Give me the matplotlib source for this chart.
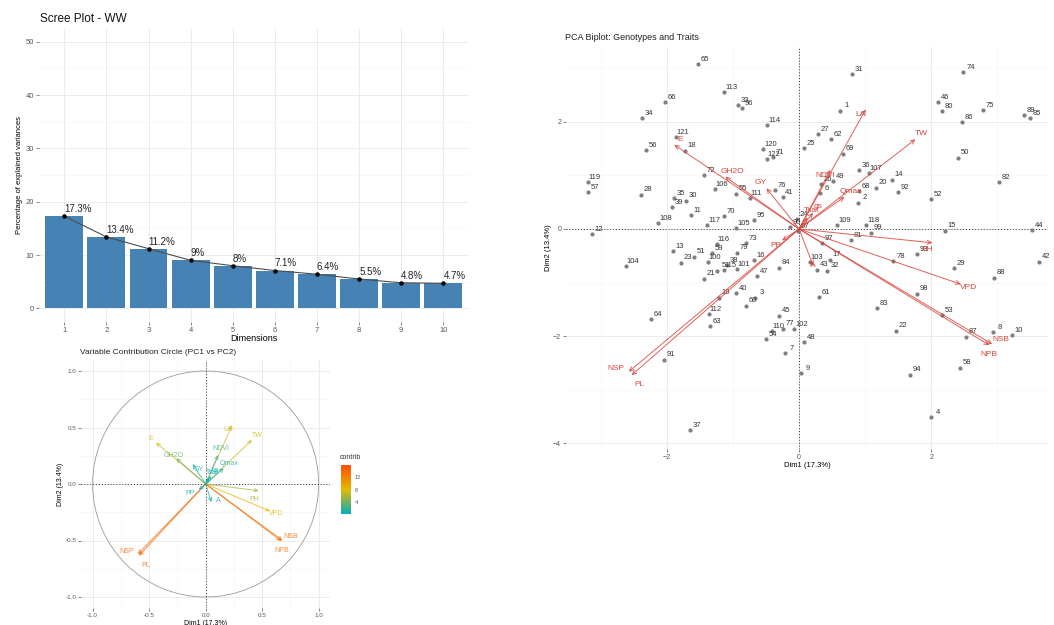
import numpy as np
import matplotlib as mpl
import matplotlib.pyplot as plt
from matplotlib.colors import LinearSegmentedColormap, Normalize
from matplotlib.patches import Circle

plt.rcParams['font.family'] = ['Liberation Sans', 'DejaVu Sans']

# scree plot
dims = list(range(1, 11))
explained = [17.3, 13.4, 11.2, 9.0, 8.0, 7.1, 6.4, 5.5, 4.8, 4.7]

# traits on the correlation circle (Dim1, Dim2) and their contribution
var_names = ['E', 'GH2O', 'GY', 'LA', 'TW', 'NDVI', 'Qmax', 'PH', 'VPD',
             'NSB', 'NPB', 'NSP', 'PL', 'A', 'PP', 'Tsat', 'gs']
var_dim1 = [-0.44, -0.26, -0.115, 0.235, 0.41, 0.11, 0.16, 0.47, 0.57,
            0.68, 0.67, -0.60, -0.59, 0.05, -0.06, 0.03, 0.05]
var_dim2 = [0.366, 0.227, 0.177, 0.52, 0.39, 0.257, 0.14, -0.06, -0.24,
            -0.50, -0.505, -0.62, -0.635, -0.16, -0.05, 0.05, 0.07]
var_contrib = [7.4, 3.6, 1.0, 7.2, 7.0, 2.0, 1.0, 5.5, 8.2,
               13.6, 13.4, 14.2, 14.0, 0.6, 0.3, 0.1, 0.1]

# genotype scores (Dim1, Dim2)
geno_id = list(range(1, 123))
geno_dim1 = [0.62, 0.89, -0.67, 2.00, -1.24, 0.32, -0.22, 2.94, 0.03, 3.22,
             -1.64, -3.14, -1.91, 1.41, 2.21, -0.68, 0.47, -1.73, -1.22, 1.16,
             -1.44, 1.47, -1.79, -0.03, 0.07, 0.33, 0.28, -2.40, 2.34, -1.72,
             0.80, 0.43, -0.93, -2.38, -1.89, 0.90, -1.65, -1.09, -1.93, -0.95,
             -0.25, 3.63, 0.27, 3.53, -0.30, 2.11, -0.64, 0.07, 0.51, 2.40,
             -1.59, 2.00, 2.16, -0.50, -0.96, -2.32, -3.19, 2.44, -1.32, -0.80,
             0.30, 0.49, -1.35, -2.25, -1.53, -2.03, -0.02, 0.90, 0.67, -1.14,
             -0.40, -1.44, -0.80, 2.49, 2.78, -0.37, -0.25, 1.43, -0.94, 2.17,
             0.79, 3.03, 1.18, -0.31, 3.50, 2.47, 2.53, 2.95, 3.40, -0.14,
             -2.05, 1.50, 1.78, 1.68, -0.69, -0.86, 0.35, 1.79, 1.09, -1.38,
             -0.94, -0.07, 0.17, -2.62, -0.95, -1.27, 1.06, -2.13, 0.58, -0.41,
             -0.75, -1.37, -1.13, -0.48, -1.14, -1.25, -1.39, 1.02, -3.20, -0.54,
             -1.87, -0.49]
geno_dim2 = [2.21, 0.49, -1.28, -3.52, -0.78, 0.67, -2.32, -1.93, -2.69, -1.98,
             0.26, -0.10, -0.41, 0.92, -0.03, -0.58, -0.57, 1.46, -1.28, 0.77,
             -0.93, -1.90, -0.63, 0.18, 1.51, 0.84, 1.77, 0.64, -0.73, 0.53,
             2.89, -0.78, 2.31, 2.07, 0.57, 1.10, -3.76, -0.67, 0.41, -1.20,
             0.59, -0.61, -0.76, -0.02, -1.62, 2.37, -0.88, -2.11, 0.89, 1.33,
             -0.52, 0.56, -1.61, -2.06, 0.66, 1.47, 0.69, -2.59, -0.45, -1.43,
             -1.27, 1.68, -1.81, -1.68, 3.08, 2.37, -0.04, 0.71, 1.41, 0.24,
             1.34, 1.01, -0.27, 2.93, 2.22, 0.73, -1.86, -0.60, -0.44, 2.20,
             -0.21, 0.88, -1.48, -0.72, 2.07, 1.99, -2.01, -0.91, 2.13, 0.03,
             -2.44, 0.69, -0.47, -2.72, 0.16, 2.26, -0.26, -1.21, -0.07, -0.62,
             -0.75, -1.87, -0.62, -0.69, 0.02, 0.74, 1.04, 0.11, 0.07, -1.91,
             0.58, -1.59, 2.55, 1.94, -0.77, -0.28, 0.07, 0.07, 0.88, 1.49,
             1.72, 1.30]

biplot_scale = 4.3  # factoextra rescales trait arrows onto the score space

W, H = 1054, 625
fig = plt.figure(figsize=(W / 100, H / 100), dpi=100)


def px_axes(x0, y0, x1, y1):
    return fig.add_axes([x0 / W, 1 - y1 / H, (x1 - x0) / W, (y1 - y0) / H])


def minimal(ax, xmaj, ymaj, xmin=(), ymin=(), size=5):
    for s in ax.spines.values():
        s.set_visible(False)
    ax.set_xticks(xmaj)
    ax.set_yticks(ymaj)
    ax.set_xticks(xmin, minor=True)
    ax.set_yticks(ymin, minor=True)
    ax.grid(which='major', color='#EBEBEB', lw=0.7)
    ax.grid(which='minor', color='#F4F4F4', lw=0.4)
    ax.tick_params(which='major', length=2, width=0.5, color='#555555',
                   labelsize=size, labelcolor='#555555', pad=1.5)
    ax.tick_params(which='minor', length=0)
    ax.set_axisbelow(True)


# ---------------- scree plot ----------------
ax1 = px_axes(39, 28.4, 468.6, 321.7)
minimal(ax1, dims, range(0, 51, 10), ymin=range(5, 50, 10), size=5.5)
ax1.bar(dims, explained, width=0.9, color='#4682B4', zorder=2)
ax1.plot(dims, explained, color='#4d4d4d', lw=0.8, zorder=3)
ax1.scatter(dims, explained, s=5, color='black', zorder=4)
for d, v in zip(dims, explained):
    ax1.annotate(f'{v:g}%', (d, v), xytext=(0, 1.5), textcoords='offset points',
                 ha='left', va='bottom', fontsize=7, color='#222222')
ax1.set_xlim(0.4, 10.6)
ax1.set_ylim(-2.5, 52.5)
ax1.set_xlabel('Dimensions', fontsize=6.5, labelpad=0)
ax1.set_ylabel('Percentage of explained variances', fontsize=5.5, labelpad=2)
fig.text(40 / W, 1 - 19 / H, 'Scree Plot - WW', fontsize=8.5, va='center',
         color='#111111', fontweight='medium')

# ---------------- correlation circle ----------------
cmap = LinearSegmentedColormap.from_list('contrib', ['#00AFBB', '#E7B800', '#FC4E07'])
norm = Normalize(vmin=0.0, vmax=16.0)

ax2 = px_axes(81.3, 359.7, 330, 608.3)
ticks_c = [-1.0, -0.5, 0.0, 0.5, 1.0]
minimal(ax2, ticks_c, ticks_c, [-0.75, -0.25, 0.25, 0.75], [-0.75, -0.25, 0.25, 0.75], size=4.5)
ax2.set_xticklabels([f'{t:.1f}' for t in ticks_c])
ax2.set_yticklabels([f'{t:.1f}' for t in ticks_c])
ax2.add_patch(Circle((0, 0), 1, fill=False, ec='#9a9a9a', lw=0.6))
ax2.axhline(0, color='#333333', lw=0.7, ls=(0, (1, 2)))
ax2.axvline(0, color='#333333', lw=0.7, ls=(0, (1, 2)))
nudge_c = {'NPB': (0, -7), 'PL': (5, -7), 'NSP': (-8, 2), 'NSB': (6, 3),
           'PH': (-3, -6), 'A': (5, 1), 'PP': (-6, -3), 'LA': (-3, -3),
           'GH2O': (-2, 2), 'GY': (4, -4)}
for n, x, y, c in zip(var_names, var_dim1, var_dim2, var_contrib):
    col = cmap(norm(c))
    ax2.annotate('', xy=(x, y), xytext=(0, 0),
                 arrowprops=dict(arrowstyle='->,head_length=0.25,head_width=0.12',
                                 color=col, lw=0.7, alpha=0.75, shrinkA=0, shrinkB=0))
    r = np.hypot(x, y)
    off = nudge_c.get(n, (5 * x / r, 5 * y / r))
    ax2.annotate(n, (x, y), xytext=off, textcoords='offset points', ha='center',
                 va='center', fontsize=5, color=col, alpha=0.8)
ax2.set_xlim(-1.1, 1.1)
ax2.set_ylim(-1.1, 1.1)
ax2.set_xlabel('Dim1 (17.3%)', fontsize=5, labelpad=1)
ax2.set_ylabel('Dim2 (13.4%)', fontsize=5, labelpad=1)
fig.text(80 / W, 1 - 352 / H, 'Variable Contribution Circle (PC1 vs PC2)',
         fontsize=6, va='center', color='#222222')

cax = px_axes(340.7, 465, 350.7, 514)
cb = mpl.colorbar.ColorbarBase(cax, cmap=cmap, norm=norm, ticks=[4, 8, 12])
cb.outline.set_visible(False)
cax.tick_params(labelsize=4, length=1.5, width=0.4, color='white', pad=1.5,
                labelcolor='#555555')
fig.text(340 / W, 1 - 457.7 / H, 'contrib', fontsize=5, va='center', color='#333333')

# ---------------- biplot ----------------
ax3 = px_axes(566, 47, 1048, 449)
minimal(ax3, [-2, 0, 2], [-4, -2, 0, 2], [-3, -1, 1, 3], [-3, -1, 1, 3], size=5)
ax3.axhline(0, color='#333333', lw=0.7, ls=(0, (1, 2)))
ax3.axvline(0, color='#333333', lw=0.7, ls=(0, (1, 2)))
ax3.scatter(geno_dim1, geno_dim2, s=4, color='#7f7f7f', zorder=3)
for g, x, y in zip(geno_id, geno_dim1, geno_dim2):
    ax3.annotate(str(g), (x, y), xytext=(5, 3.5), textcoords='offset points',
                 ha='center', va='center', fontsize=5.5, color='#333333')
red = '#D9453D'
nudge_b = {'NPB': (0, -7), 'PL': (6, -7), 'NSP': (-9, 2), 'NSB': (6, 3),
           'PH': (-4, -5), 'A': (0, 0), 'LA': (-4, -4), 'NDVI': (-4, -4),
           'GH2O': (5, 4), 'GY': (-4, 4), 'E': (4, 4)}
for n, x, y in zip(var_names, var_dim1, var_dim2):
    bx, by = x * biplot_scale, y * biplot_scale
    ax3.annotate('', xy=(bx, by), xytext=(0, 0),
                 arrowprops=dict(arrowstyle='->,head_length=0.3,head_width=0.14',
                                 color=red, lw=0.7, alpha=0.85, shrinkA=0, shrinkB=0))
    r = np.hypot(bx, by)
    off = nudge_b.get(n, (6 * bx / r, 6 * by / r))
    ax3.annotate(n, (bx, by), xytext=off, textcoords='offset points', ha='center',
                 va='center', fontsize=6, color=red)
ax3.set_xlim(-3.53, 3.77)
ax3.set_ylim(-4.11, 3.40)
ax3.set_xlabel('Dim1 (17.3%)', fontsize=5.5, labelpad=1)
ax3.set_ylabel('Dim2 (13.4%)', fontsize=5.5, labelpad=1)
fig.text(565 / W, 1 - 37 / H, 'PCA Biplot: Genotypes and Traits', fontsize=6.5,
         va='center', color='#222222')

fig.savefig('out.png', dpi=100, facecolor='white')
